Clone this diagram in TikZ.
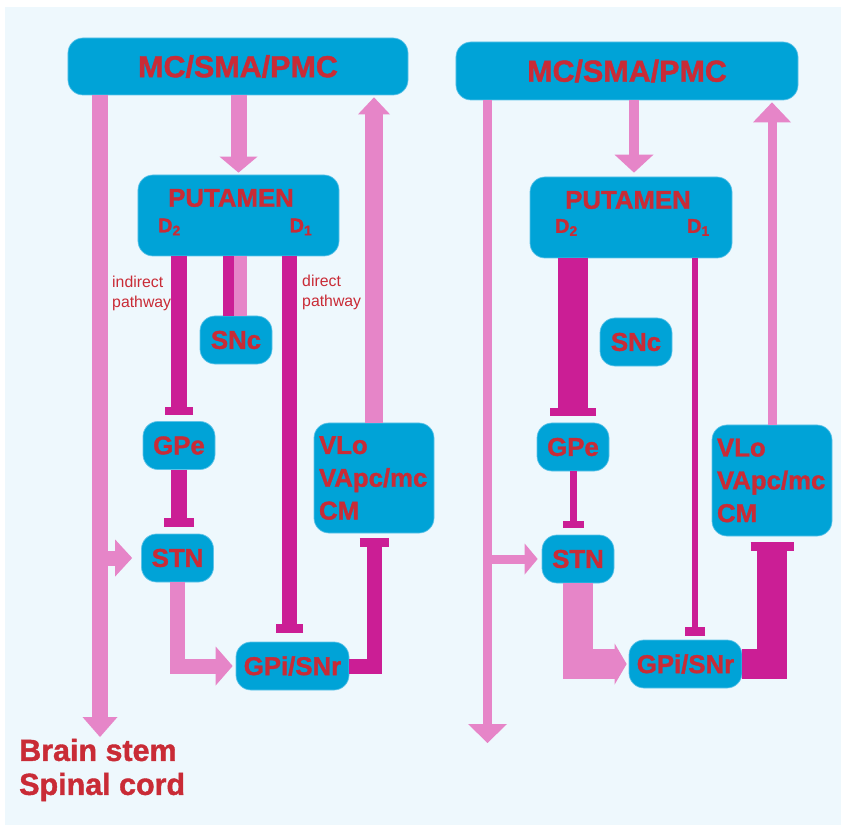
\documentclass[tikz,border=0pt]{standalone}
\usepackage{fontspec}
\setmainfont{Liberation Sans}[BoldFeatures={FakeBold=1.3}]
\usetikzlibrary{arrows.meta}
\definecolor{bgblue}{RGB}{238,248,253}
\definecolor{boxblue}{RGB}{0,163,215}
\definecolor{boxedge}{RGB}{95,195,232}
\definecolor{labred}{RGB}{201,43,54}
\definecolor{excite}{RGB}{230,133,200}
\definecolor{inhibit}{RGB}{203,30,149}

\begin{document}
\begin{tikzpicture}[%
		x=0.03cm,
		y=-0.03cm,
		area/.style={%
			fill=boxblue,
			draw=boxedge,
			line width=0.6pt,
			rounded corners=0.45cm,
			text=labred,
			font=\bfseries\fontsize{22}{28}\selectfont,
			inner sep=0pt,
			minimum width=2.16cm,
			minimum height=1.44cm
		},
		cortex/.style={%
			area,
			font=\bfseries\fontsize{26}{30}\selectfont
		},
		dmark/.style={%
			text=labred,
			font=\bfseries\fontsize{17}{20}\selectfont,
			inner sep=0pt
		},
		note/.style={%
			text=labred,
			font=\fontsize{13.5}{17}\selectfont,
			align=left,
			anchor=west,
			inner sep=0pt
		},
		target/.style={%
			text=labred,
			font=\bfseries\fontsize{26}{29}\selectfont,
			align=left,
			anchor=west,
			inner sep=0pt
		},
		drive/.style={draw=excite},
		block/.style={draw=inhibit},
		tri/.style 2 args={-{Triangle[width=#1,length=#2,line width=0pt]}},
		tee/.style 2 args={-{Bar[width=#1,line width=#2]}}
		]
		\useasboundingbox (0,0) rectangle (841,825);
		\fill[bgblue] (5,7) rectangle (841,825);
		
		% left panel
		\node[cortex, minimum width=10.2cm, minimum height=1.71cm] (mcL)  at (238,66.5)   {MC/SMA/PMC};
		\node[area, minimum width=6.03cm, minimum height=2.43cm]   (putL) at (238.5,215.5) {};
		\node[area, draw=none, fill=none]                          (putLname) at (231,198) {PUTAMEN};
		\node[dmark] (d2L) at (169.5,227) {D\textsubscript{2}};
		\node[dmark] (d1L) at (301,227)   {D\textsubscript{1}};
		\node[area]                        (sncL) at (236,340)   {SNc};
		\node[area]                        (gpeL) at (179,445.5) {GPe};
		\node[area]                        (stnL) at (177.5,558) {STN};
		\node[area, minimum width=3.39cm]  (gpiL) at (292.5,666) {GPi/SNr};
		\node[area, minimum width=3.6cm, minimum height=3.3cm,
			text width=3.3cm, align=left]  (vloL) at (374,478)   {VLo\\VApc/mc\\CM};
		\node[note]   (indL) at (112,293) {indirect\\pathway};
		\node[note]   (dirLtxt) at (302,292) {direct\\pathway};
		\node[target] (brain) at (19,770) {Brain stem\\Spinal cord};
		
		\coordinate (endL) at (100,737);
		\coordinate (sncLa) at ([xshift=-0.225cm]sncL.north);
		\coordinate (sncLb) at ([xshift=0.135cm]sncL.north);
		\coordinate (dirL) at ([xshift=-0.09cm]gpiL.north);
		
		\draw[drive, line width=0.48cm, tri={1.05cm}{0.6cm}] (endL |- mcL.south) -- (endL);
		\draw[drive, line width=0.45cm, tri={1.11cm}{0.51cm}, shorten >=0.27cm] (endL |- stnL.west) -- (stnL.west);
		\draw[drive, line width=0.48cm, tri={1.14cm}{0.48cm}, shorten >=0.06cm] (putL.north |- mcL.south) -- (putL.north);
		\draw[drive, line width=0.54cm, tri={0.96cm}{0.51cm}, shorten >=0.06cm] (vloL.north) -- (vloL.north |- mcL.south);
		\draw[block, line width=0.48cm, tee={0.84cm}{0.24cm}, shorten >=0.18cm] (gpeL.north |- putL.south) -- (gpeL.north);
		\draw[block, line width=0.33cm] (sncLa |- putL.south) -- (sncLa);
		\draw[drive, line width=0.39cm] (sncLb |- putL.south) -- (sncLb);
		\draw[block, line width=0.45cm, tee={0.81cm}{0.27cm}, shorten >=0.27cm] (dirL |- putL.south) -- (dirL);
		\draw[block, line width=0.48cm, tee={0.9cm}{0.27cm}, shorten >=0.21cm] (gpeL.south) -- (gpeL.south |- stnL.north);
		\draw[drive, line width=0.45cm, tri={1.17cm}{0.51cm}, shorten >=0.09cm] (stnL.south) |- (gpiL.west);
		\draw[block, line width=0.45cm, tee={0.87cm}{0.27cm}, shorten >=0.15cm] (gpiL.east) -| (vloL.south);
		
		% right panel
		\node[cortex, minimum width=10.26cm, minimum height=1.74cm] (mcR)  at (627,71)    {MC/SMA/PMC};
		\node[area, minimum width=6.06cm, minimum height=2.43cm]    (putR) at (631,217.5) {};
		\node[area, draw=none, fill=none]                           (putRname) at (628,200) {PUTAMEN};
		\node[dmark] (d2R) at (566.5,227.5) {D\textsubscript{2}};
		\node[dmark] (d1R) at (698.5,227.5) {D\textsubscript{1}};
		\node[area]                        (sncR) at (636,342)   {SNc};
		\node[area]                        (gpeR) at (573,447)   {GPe};
		\node[area]                        (stnR) at (578,559)   {STN};
		\node[area, minimum width=3.39cm]  (gpiR) at (685.5,664) {GPi/SNr};
		\node[area, minimum width=3.6cm, minimum height=3.33cm,
			text width=3.3cm, align=left]  (vloR) at (772,480.5) {VLo\\VApc/mc\\CM};
		
		\coordinate (endR) at (487.5,743);
		\coordinate (dirR) at ([xshift=0.285cm]gpiR.north);
		\coordinate (topR) at ([xshift=0.09cm]putR.north);
		
		\draw[drive, line width=0.27cm, tri={1.17cm}{0.57cm}] (endR |- mcR.south) -- (endR);
		\draw[drive, line width=0.27cm, tri={0.93cm}{0.39cm}, shorten >=0.12cm] (endR |- stnR.west) -- (stnR.west);
		\draw[drive, line width=0.3cm, tri={1.17cm}{0.54cm}, shorten >=0.12cm] (topR |- mcR.south) -- (topR);
		\draw[drive, line width=0.27cm, tri={1.14cm}{0.6cm}, shorten >=0.06cm] (vloR.north) -- (vloR.north |- mcR.south);
		\draw[block, line width=0.9cm, tee={1.38cm}{0.24cm}, shorten >=0.21cm] (gpeR.north |- putR.south) -- (gpeR.north);
		\draw[block, line width=0.18cm, tee={0.6cm}{0.27cm}, shorten >=0.12cm] (dirR |- putR.south) -- (dirR);
		\draw[block, line width=0.21cm, tee={0.63cm}{0.21cm}, shorten >=0.21cm] (gpeR.south) -- (gpeR.south |- stnR.north);
		\draw[drive, line width=0.9cm, tri={1.23cm}{0.36cm}, shorten >=0.06cm] (stnR.south) |- (gpiR.west);
		\draw[block, line width=0.9cm, tee={1.29cm}{0.27cm}, shorten >=0.18cm] (gpiR.east) -| (vloR.south);
		\end{tikzpicture}
\end{document}
